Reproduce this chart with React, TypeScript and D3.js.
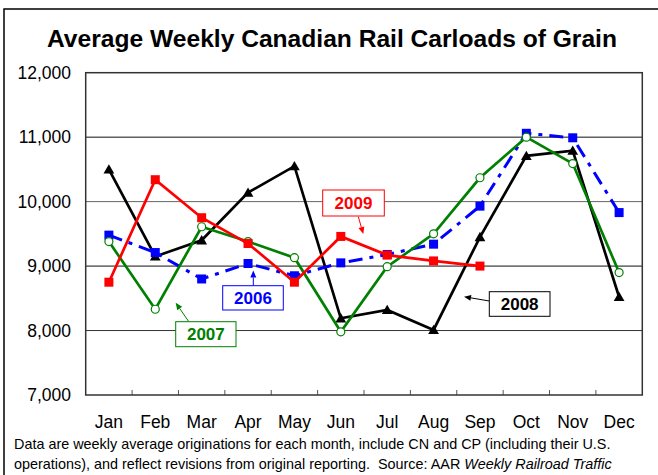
import React from "react";
import * as d3 from "d3";

const months = ["Jan", "Feb", "Mar", "Apr", "May", "Jun", "Jul", "Aug", "Sep", "Oct", "Nov", "Dec"];
const yTicks = [7000, 8000, 9000, 10000, 11000, 12000];
const s2006 = [9480, 9210, 8800, 9040, 8850, 9050, 9180, 9340, 9930, 11060, 10990, 9830];
const s2007 = [9380, 8330, 9610, 9380, 9130, 7980, 8990, 9500, 10370, 11000, 10590, 8900];
const s2008 = [10500, 9150, 9400, 10140, 10550, 8190, 8320, 8010, 9450, 10710, 10790, 8520];
const s2009 = [8750, 10340, 9750, 9350, 8750, 9460, 9170, 9080, 9000];
const title = "Average Weekly Canadian Rail Carloads of Grain";
const note1 = "Data are weekly average originations for each month, include CN and CP (including their U.S.";
const note2a = "operations), and reflect revisions from original reporting.\u00a0 Source: AAR ";
const note2b = "Weekly Railroad Traffic";

const W = 658, H = 475;
const L = 85.7, R = 642.3, T = 72.7, B = 395;

export default function App() {
  const x = d3.scaleBand<string>().domain(months).range([L, R]).padding(0);
  const y = d3.scaleLinear().domain([7000, 12000]).range([B, T]);
  const cx = (i: number) => (x(months[i]) as number) + x.bandwidth() / 2;
  const line = d3.line<number>().x((_, i) => cx(i)).y((d) => y(d));
  const font = "'Liberation Sans', Arial, sans-serif";
  const tri = d3.symbol().type(d3.symbolTriangle).size(50)();
  const gridColor: Record<number, string> = { 8000: "#333", 9000: "#111", 10000: "#666", 11000: "#111" };

  const arrow = (x1: number, y1: number, x2: number, y2: number, c: string) => {
    const a = Math.atan2(y2 - y1, x2 - x1);
    const len = 7, wdt = 3;
    const bx = x2 - len * Math.cos(a), by = y2 - len * Math.sin(a);
    const p = `${x2},${y2} ${bx - wdt * Math.sin(a)},${by + wdt * Math.cos(a)} ${bx + wdt * Math.sin(a)},${by - wdt * Math.cos(a)}`;
    return (
      <g>
        <line x1={x1} y1={y1} x2={bx} y2={by} stroke={c} strokeWidth={1} />
        <polygon points={p} fill={c} />
      </g>
    );
  };

  const labelBox = (x0: number, y0: number, w: number, h: number, text: string, c: string) => (
    <g>
      <rect x={x0} y={y0} width={w} height={h} fill="#fff" stroke={c} strokeWidth={1} />
      <text x={x0 + w / 2} y={y0 + h / 2 + 6} textAnchor="middle" fontFamily={font} fontWeight="bold" fontSize={17} fill={c}>{text}</text>
    </g>
  );

  return (
    <svg width={W} height={H} style={{ position: "absolute", left: 0, top: 0, background: "#fff" }}>
      <rect x={0} y={0} width={W} height={H} fill="#fff" />
      <rect x={4} y={9} width={W + 20} height={H + 20} fill="none" stroke="#000" strokeWidth={1.5} />
      <text x={332} y={47} textAnchor="middle" fontFamily={font} fontWeight="bold" fontSize={24.6} fill="#000">{title}</text>

      {yTicks.filter((t) => t > 7000 && t < 12000).map((t) => (
        <line key={t} x1={L} x2={R} y1={y(t)} y2={y(t)} stroke={gridColor[t]} strokeWidth={1} />
      ))}
      {yTicks.map((t) => (
        <text key={t} x={71} y={y(t) + 6} textAnchor="end" fontFamily={font} fontSize={17.5} fill="#000">{d3.format(",")(t)}</text>
      ))}
      {months.slice(1).map((m) => (
        <line key={m} x1={x(m) as number} x2={x(m) as number} y1={B} y2={B - 5} stroke="#555" strokeWidth={1} />
      ))}
      {months.map((m, i) => (
        <text key={m} x={cx(i)} y={428} textAnchor="middle" fontFamily={font} fontSize={17.5} fill="#000">{m}</text>
      ))}
      <rect x={L} y={T} width={R - L} height={B - T} fill="none" stroke="#333" strokeWidth={1.5} />

      {/* 2008 */}
      <path d={line(s2008) as string} fill="none" stroke="#000" strokeWidth={2.7} />
      {s2008.map((v, i) => (
        <path key={i} d={tri as string} transform={`translate(${cx(i)},${y(v) + 1})`} fill="#000" />
      ))}
      {/* 2006 */}
      <path d={line(s2006) as string} fill="none" stroke="#0000ff" strokeWidth={3} strokeDasharray="14,7,4,7" />
      {s2006.map((v, i) => (
        <rect key={i} x={cx(i) - 4.5} y={y(v) - 4.5} width={9} height={9} fill="#0000ff" />
      ))}
      {/* 2007 */}
      <path d={line(s2007) as string} fill="none" stroke="#008000" strokeWidth={2.7} />
      {s2007.map((v, i) => (
        <circle key={i} cx={cx(i)} cy={y(v)} r={4} fill="#fff" stroke="#008000" strokeWidth={1.2} />
      ))}
      {/* 2009 */}
      <path d={line(s2009) as string} fill="none" stroke="#ff0000" strokeWidth={2.7} />
      {s2009.map((v, i) => (
        <rect key={i} x={cx(i) - 4.5} y={y(v) - 4.5} width={9} height={9} fill="#ff0000" />
      ))}

      {arrow(358.3, 216.7, 363.3, 234, "#ff0000")}
      {labelBox(322.7, 190, 61.6, 26, "2009", "#ff0000")}
      {arrow(253.3, 285.7, 253.3, 270.5, "#0000ff")}
      {labelBox(222.7, 285.7, 60.6, 24.3, "2006", "#0000ff")}
      {arrow(188.7, 321.5, 175.7, 302.7, "#008000")}
      {labelBox(175.7, 321.7, 60.3, 25, "2007", "#008000")}
      {arrow(489.3, 301, 464, 296.7, "#000")}
      {labelBox(489.3, 291.7, 60.7, 24.6, "2008", "#000")}

      <text x={14} y={449} fontFamily={font} fontSize={14.4} fill="#000">{note1}</text>
      <text x={14} y={469} fontFamily={font} fontSize={14.4} fill="#000">
        {note2a}
        <tspan fontStyle="italic">{note2b}</tspan>
      </text>
    </svg>
  );
}
